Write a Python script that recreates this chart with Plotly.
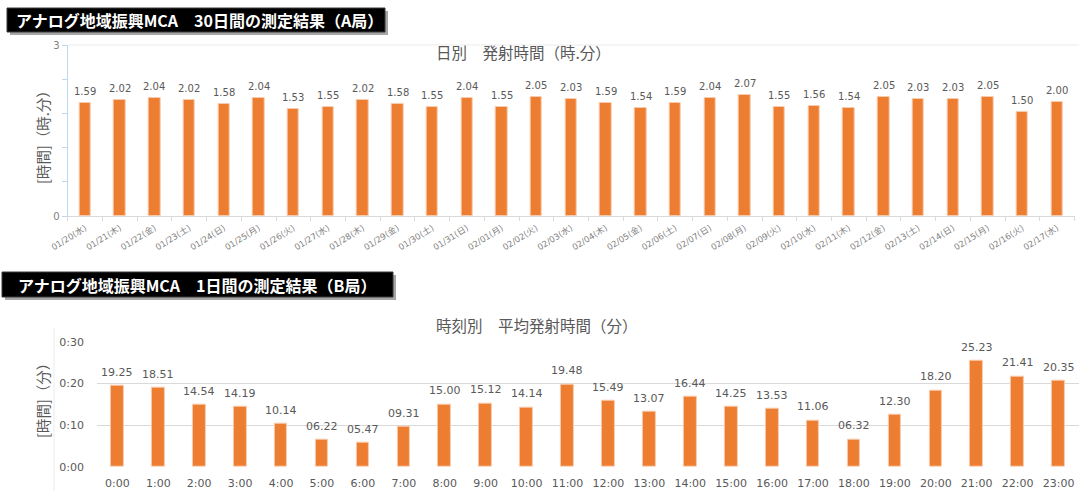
import plotly.graph_objects as go

# ---- data -------------------------------------------------------------
day_labels = [
    "01/20(水)", "01/21(木)", "01/22(金)", "01/23(土)", "01/24(日)", "01/25(月)",
    "01/26(火)", "01/27(水)", "01/28(木)", "01/29(金)", "01/30(土)", "01/31(日)",
    "02/01(月)", "02/02(火)", "02/03(水)", "02/04(木)", "02/05(金)", "02/06(土)",
    "02/07(日)", "02/08(月)", "02/09(火)", "02/10(水)", "02/11(木)", "02/12(金)",
    "02/13(土)", "02/14(日)", "02/15(月)", "02/16(火)", "02/17(水)",
]
# daily emission time, written as "hours.minutes"
day_values = [
    "1.59", "2.02", "2.04", "2.02", "1.58", "2.04", "1.53", "1.55", "2.02", "1.58",
    "1.55", "2.04", "1.55", "2.05", "2.03", "1.59", "1.54", "1.59", "2.04", "2.07",
    "1.55", "1.56", "1.54", "2.05", "2.03", "2.03", "2.05", "1.50", "2.00",
]

hour_labels = [
    "0:00", "1:00", "2:00", "3:00", "4:00", "5:00", "6:00", "7:00",
    "8:00", "9:00", "10:00", "11:00", "12:00", "13:00", "14:00", "15:00",
    "16:00", "17:00", "18:00", "19:00", "20:00", "21:00", "22:00", "23:00",
]
# hourly average emission time, written as "minutes.seconds"
hour_values = [
    "19.25", "18.51", "14.54", "14.19", "10.14", "06.22", "05.47", "09.31",
    "15.00", "15.12", "14.14", "19.48", "15.49", "13.07", "16.44", "14.25",
    "13.53", "11.06", "06.32", "12.30", "18.20", "25.23", "21.41", "20.35",
]

day_axis_ticks = [0, 0.6, 1.2, 1.8, 2.4, 3]
day_axis_text = ["0", "", "", "", "", "3"]
hour_axis_ticks = [0, 10, 20, 30]
hour_axis_text = ["0:00", "0:10", "0:20", "0:30"]


def sexagesimal(s):
    """'a.bb' -> a + bb/60 (hours.minutes or minutes.seconds)."""
    whole, frac = s.split(".")
    return int(whole) + int(frac) / 60.0


day_hours = [sexagesimal(v) for v in day_values]
hour_minutes = [sexagesimal(v) for v in hour_values]

# ---- page geometry ----------------------------------------------------
W, H = 1079, 491


def fx(px):
    return px / W


def fy(py):
    return 1 - py / H


FONT = "DejaVu Sans, Noto Sans CJK JP, sans-serif"
JP = "Noto Sans CJK JP, sans-serif"
ORANGE = "#ED7D31"
EDGE = "#F8CBAD"
TXT = "#595959"
AX = "#7f7f7f"

fig = go.Figure()

fig.add_trace(go.Bar(
    x=day_labels, y=day_hours, xaxis="x", yaxis="y", width=0.33,
    marker=dict(color=ORANGE, line=dict(color=EDGE, width=1)),
    hoverinfo="skip", showlegend=False,
))
fig.add_trace(go.Bar(
    x=hour_labels, y=hour_minutes, xaxis="x2", yaxis="y2", width=0.31,
    marker=dict(color=ORANGE, line=dict(color=EDGE, width=1)),
    hoverinfo="skip", showlegend=False,
))

annotations = []
for lab, txt, val in zip(day_labels, day_values, day_hours):
    annotations.append(dict(
        x=lab, y=val, xref="x", yref="y", text=txt, showarrow=False,
        xanchor="center", yanchor="bottom", yshift=4,
        font=dict(family=FONT, size=10, color=TXT),
    ))
for lab, txt, val in zip(hour_labels, hour_values, hour_minutes):
    annotations.append(dict(
        x=lab, y=val, xref="x2", yref="y2", text=txt, showarrow=False,
        xanchor="center", yanchor="bottom", yshift=5,
        font=dict(family=FONT, size=11, color=TXT),
    ))


def paper_text(x, y, text, size, color=TXT, angle=0):
    return dict(x=fx(x), y=fy(y), xref="paper", yref="paper", text=text,
                showarrow=False, xanchor="center", yanchor="middle",
                textangle=angle, font=dict(family=JP, size=size, color=color))


# chart titles
annotations.append(paper_text(523, 52, "日別　発射時間（時.分）", 15.5))
annotations.append(paper_text(537, 325, "時刻別　平均発射時間（分）", 15.5))
# axis titles
annotations.append(paper_text(42, 134, "[時間]（時.分）", 14.5, angle=-90))
annotations.append(paper_text(42, 397, "[時間]（分）", 14.5, angle=-90))
# section banners
annotations.append(paper_text(199, 20, "<b>アナログ地域振興MCA　30日間の測定結果（A局）</b>",
                              16, color="white"))
annotations.append(paper_text(197, 285, "<b>アナログ地域振興MCA　1日間の測定結果（B局）</b>",
                              16, color="white"))

shapes = []
for (x0, y0, x1, y1) in [(7, 8, 385, 32), (2, 272, 393, 297)]:
    shapes.append(dict(type="rect", xref="paper", yref="paper",
                       x0=fx(x0 + 3), x1=fx(x1 + 3), y0=fy(y1 + 3), y1=fy(y0 + 3),
                       fillcolor="rgba(0,0,0,0.35)", line=dict(width=0), layer="below"))
    shapes.append(dict(type="rect", xref="paper", yref="paper",
                       x0=fx(x0), x1=fx(x1), y0=fy(y1), y1=fy(y0),
                       fillcolor="black", line=dict(color="#3a3a3a", width=1), layer="below"))
# frame lines of the two chart areas
shapes.append(dict(type="line", xref="paper", yref="paper",
                   x0=fx(67.7), x1=1, y0=fy(45), y1=fy(45),
                   line=dict(color="#ebebeb", width=1)))
shapes.append(dict(type="line", xref="paper", yref="paper",
                   x0=fx(54), x1=fx(54), y0=fy(328), y1=0,
                   line=dict(color="#ebebeb", width=1)))

fig.update_layout(
    width=W, height=H, margin=dict(l=0, r=0, t=0, b=0, autoexpand=False),
    paper_bgcolor="white", plot_bgcolor="white",
    font=dict(family=FONT, color=TXT),
    bargap=0, showlegend=False,
    annotations=annotations, shapes=shapes,
    xaxis=dict(
        domain=[fx(67.7), fx(1074.5)], anchor="y", type="category", automargin=False,
        range=[-0.5, len(day_labels) - 0.5], fixedrange=True,
        showline=True, linecolor="#d9d9d9", linewidth=1,
        ticks="outside", tickson="boundaries", ticklen=4, tickcolor="#d9d9d9",
        ticklabelstandoff=3,
        tickangle=-32, tickfont=dict(family=FONT, size=8.5, color=AX),
        showgrid=False, zeroline=False,
    ),
    yaxis=dict(
        domain=[fy(216), fy(45)], anchor="x", range=[0, 3], automargin=False,
        tickvals=day_axis_ticks, ticktext=day_axis_text,
        showline=True, linecolor="#BDD7EE", linewidth=1,
        ticks="outside", ticklen=5, tickcolor="#BDD7EE",
        tickfont=dict(family=FONT, size=10, color=AX),
        showgrid=False, zeroline=False, fixedrange=True,
    ),
    xaxis2=dict(
        domain=[fx(96.9), 1.0], anchor="y2", type="category", automargin=False,
        range=[-0.5, len(hour_labels) - 0.5], fixedrange=True,
        showline=False, ticks="", ticklabelstandoff=8,
        tickfont=dict(family=FONT, size=11, color=TXT),
        showgrid=False, zeroline=False,
    ),
    yaxis2=dict(
        domain=[fy(466.7), fy(341.7)], anchor="x2", range=[0, 30], automargin=False,
        tickvals=hour_axis_ticks, ticktext=hour_axis_text,
        showline=False, ticks="", ticklabelstandoff=12,
        tickfont=dict(family=FONT, size=11, color=TXT),
        showgrid=True, gridcolor="#d9d9d9", gridwidth=1,
        zeroline=False, fixedrange=True,
    ),
)

fig.write_html("out.html")
